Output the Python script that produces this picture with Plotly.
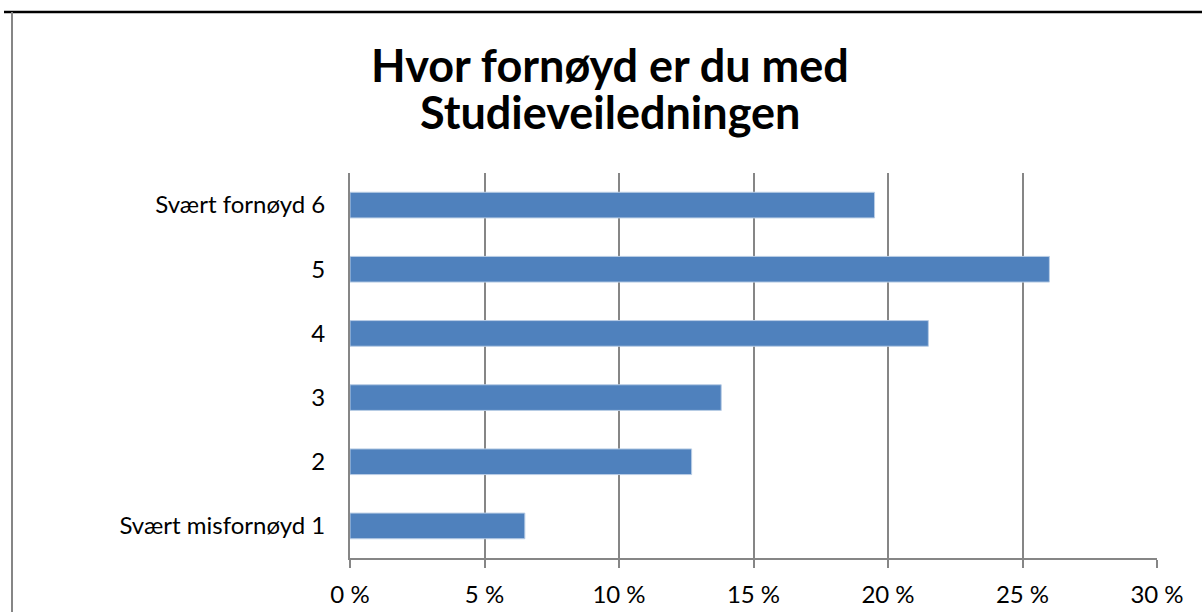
import plotly.graph_objects as go

categories = ["Svært misfornøyd 1", "2", "3", "4", "5", "Svært fornøyd 6"]
values = [6.5, 12.7, 13.8, 21.5, 26.0, 19.5]
tick_vals = [0, 5, 10, 15, 20, 25, 30]
tick_text = ["0 %", "5 %", "10 %", "15 %", "20 %", "25 %", "30 %"]
title_lines = ["Hvor fornøyd er du med", "Studieveiledningen"]

W, H = 1202, 612
L, R, T, B = 350, 1157, 173, 558
FONT = "Lato, 'Open Sans', sans-serif"

fig = go.Figure()
fig.add_trace(go.Bar(
    x=values, y=categories, orientation="h",
    marker=dict(color="#4F81BD", line=dict(color="#B9CDE5", width=1)),
    width=0.4, hoverinfo="skip",
))

gray = "#868686"


def py(ypix):
    # pixel y (from top) -> paper coord
    return (B - ypix) / (B - T)


def px(xpix):
    return (xpix - L) / (R - L)


annotations = []
for line, ypix in zip(title_lines, [65, 112]):
    annotations.append(dict(
        text="<b>" + line + "</b>", xref="paper", yref="paper",
        x=px(610), y=py(ypix), xanchor="center", yanchor="middle",
        showarrow=False, font=dict(size=45, family=FONT, color="black"),
    ))

fig.update_layout(
    width=W, height=H,
    margin=dict(l=L, r=W - R, t=T, b=H - B, pad=0, autoexpand=False),
    paper_bgcolor="white", plot_bgcolor="white",
    showlegend=False,
    font=dict(family=FONT, color="black", size=24),
    xaxis=dict(range=[0, 30], tickvals=tick_vals, ticktext=tick_text,
               showgrid=True, gridcolor=gray, gridwidth=1.5,
               showline=True, linecolor=gray, linewidth=2,
               ticks="outside", ticklen=8, tickcolor=gray, tickwidth=1.5,
               ticklabelstandoff=6, automargin=False,
               tickfont=dict(size=24), zeroline=False, fixedrange=True),
    yaxis=dict(showgrid=False, showline=True, linecolor=gray, linewidth=2,
               ticks="", ticklabelstandoff=18, tickfont=dict(size=24),
               automargin=False,
               range=[-0.5, 5.5], fixedrange=True),
    annotations=annotations,
    shapes=[
        dict(type="line", xref="paper", yref="paper",
             x0=px(4), x1=px(W), y0=py(12), y1=py(12),
             line=dict(color="black", width=2.5)),
        dict(type="line", xref="paper", yref="paper",
             x0=px(12), x1=px(12), y0=py(12), y1=py(H),
             line=dict(color=gray, width=2)),
    ],
)

fig.write_html("out.html", config={"displayModeBar": False},
               post_script="document.body.style.margin='0';")
